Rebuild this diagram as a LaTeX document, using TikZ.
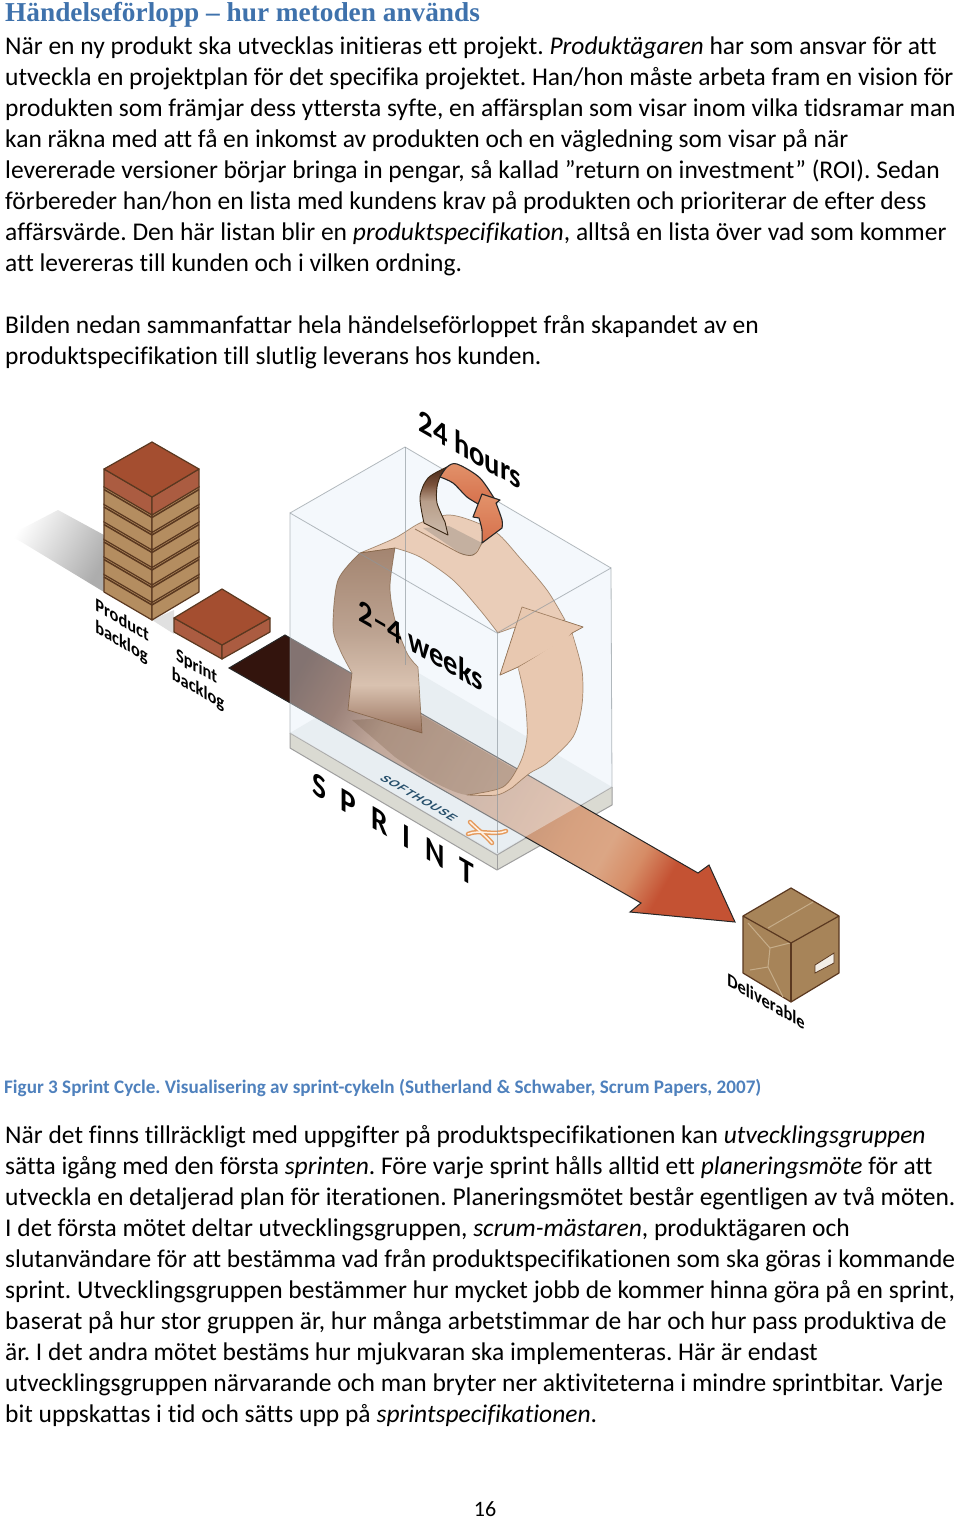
\documentclass[tikz,border=0pt]{standalone}
\usepackage{fontspec}
\setmainfont[Ligatures={NoCommon,TeX}]{Carlito}
\newfontfamily\headfont{Liberation Serif}
\newfontfamily\logofont{Liberation Sans}
\usepackage{tikz}
\frenchspacing
\definecolor{headblue}{HTML}{3F72AC}
\definecolor{capblue}{HTML}{4F81BD}
\definecolor{slabred}{HTML}{A44E30}
\definecolor{slabside}{HTML}{B48D60}
\definecolor{slabline}{HTML}{5A3820}
\definecolor{boxtan}{HTML}{A78459}
\definecolor{boxtape}{HTML}{C6AD8A}
\definecolor{glassedge}{HTML}{8D969C}
\definecolor{glassfill}{HTML}{F4F8FC}
\definecolor{platetop}{HTML}{E1E7EB}
\definecolor{plateside}{HTML}{DADAD2}
\definecolor{logoblue}{HTML}{264F6B}
\definecolor{logoorange}{HTML}{E59A5C}
\definecolor{peachlow}{RGB}{232,200,176}
\definecolor{peachtop}{RGB}{234,205,184}
\definecolor{tailgrey}{RGB}{196,176,160}
\definecolor{ringhigh}{RGB}{226,146,106}
\definecolor{ringlow}{RGB}{214,112,76}
\pgfdeclarehorizontalshading{bandshade}{100bp}{rgb(0bp)=(.20,.08,.05); rgb(25bp)=(.20,.08,.05); rgb(31bp)=(.36,.18,.11); rgb(37bp)=(.62,.44,.34); rgb(50bp)=(.72,.55,.45); rgb(62bp)=(.84,.63,.50); rgb(67bp)=(.86,.65,.52); rgb(71bp)=(.84,.55,.40); rgb(75bp)=(.77,.32,.20); rgb(100bp)=(.77,.32,.20)}
\pgfdeclareverticalshading{leftloop}{100bp}{rgb(0bp)=(.60,.45,.37); rgb(25bp)=(.60,.45,.37); rgb(38bp)=(.85,.76,.69); rgb(52bp)=(.74,.64,.57); rgb(75bp)=(.64,.52,.44); rgb(100bp)=(.64,.52,.44)}
\pgfdeclareverticalshading{smallring}{100bp}{rgb(0bp)=(.80,.73,.67); rgb(25bp)=(.80,.73,.67); rgb(50bp)=(.72,.62,.54); rgb(62bp)=(.48,.32,.23); rgb(75bp)=(.28,.16,.10); rgb(100bp)=(.28,.16,.10)}
\tikzset{
	bodytext/.style={inner sep=0pt,anchor=north west,align=left,font=\fontsize{25.5}{31}\selectfont},
	isolabel/.style={inner sep=0pt,align=left,transform shape,cm={.866,-.5,0,1,(0,0)},font=\bfseries\fontsize{#1}{#1}\selectfont},
	slab/.style={draw=slabline,line width=1.2pt,line join=round},
	glass/.style={draw=glassedge,draw opacity=.65,line width=.8pt},
	ribbon/.style={draw=black!45!brown,draw opacity=.55,line width=.7pt,line join=round},
}
\begin{document}
\begin{tikzpicture}[x=1pt,y=-1pt]
	\useasboundingbox (0,0) rectangle (960,1521);
	\fill[white] (0,0) rectangle (960,1521);
	\node[inner sep=0pt,anchor=base west,text=headblue,font=\headfont\bfseries\fontsize{27.3}{31}\selectfont] (headline) at (5,21) {Händelseförlopp – hur metoden används};
	\node[bodytext] (introtext) at (5,37) {När en ny produkt ska utvecklas initieras ett projekt. \textit{Produktägaren} har som ansvar för att\\
	utveckla en projektplan för det specifika projektet. Han/hon måste arbeta fram en vision för\\
	produkten som främjar dess yttersta syfte, en affärsplan som visar inom vilka tidsramar man\\
	kan räkna med att få en inkomst av produkten och en vägledning som visar på när\\
	levererade versioner börjar bringa in pengar, så kallad ”return on investment” (ROI). Sedan\\
	förbereder han/hon en lista med kundens krav på produkten och prioriterar de efter dess\\
	affärsvärde. Den här listan blir en \textit{produktspecifikation}, alltså en lista över vad som kommer\\
	att levereras till kunden och i vilken ordning.};
	\node[bodytext] (summarytext) at (5,315) {Bilden nedan sammanfattar hela händelseförloppet från skapandet av en\\
	produktspecifikation till slutlig leverans hos kunden.};

	\shade[left color=white,right color=black!32,shading angle=60] (10,535) -- (58,510) -- (104,535) -- (104,592) -- cycle;
	\fill[black!12] (152,620) -- (174,610) -- (174,634) -- cycle;

	\foreach \y in {105,87.5,70,52.5,35,17.5} {
		\filldraw[slab,fill=slabside] (104,469+\y) -- (152,497+\y) -- (152,515+\y) -- (104,487+\y) -- cycle;
		\filldraw[slab,fill=slabside] (199,469+\y) -- (152,497+\y) -- (152,515+\y) -- (199,487+\y) -- cycle;
		\draw[slabline,line width=1.5pt] (104,472+\y) -- (152,500+\y) -- (199,472+\y);
	}
	\filldraw[slab,fill=slabred!92!white] (104,469) -- (152,497) -- (152,515) -- (104,487) -- cycle;
	\filldraw[slab,fill=slabred!92!white] (199,469) -- (152,497) -- (152,515) -- (199,487) -- cycle;
	\filldraw[slab,fill=slabred] (152,442) -- (199,469) -- (152,497) -- (104,469) -- cycle;

	\filldraw[slab,fill=slabred!92!white] (174,618) -- (222,645) -- (222,659) -- (174,632) -- cycle;
	\filldraw[slab,fill=slabred!92!white] (270,618) -- (222,645) -- (222,659) -- (270,632) -- cycle;
	\filldraw[slab,fill=slabred] (222,589) -- (270,618) -- (222,645) -- (174,618) -- cycle;

	\node[isolabel=19] (productlabel) at (122,632) {Product\\[3pt]backlog};
	\node[isolabel=19] (sprintlabel) at (198,679) {\hspace*{5pt}Sprint\\[3pt]backlog};

	\fill[glassfill] (405,447) -- (611,568) -- (612,787) -- (497,853) -- (290,733) -- (290,513) -- cycle;
	\fill[plateside] (290,748) -- (497,870) -- (612,805) -- (612,787) -- (497,853) -- (290,733) -- cycle;
	\draw[gray!75,line width=1pt,line join=round] (290,733) -- (290,748) -- (497,870) -- (612,805) -- (612,787);
	\draw[gray!75,line width=1pt] (497,855) -- (497,870);
	\fill[platetop] (405,665) -- (612,787) -- (497,855) -- (290,733) -- cycle;
	\draw[gray!70,line width=1pt] (290,733) -- (497,855) -- (612,787);

	\shade[shading=bandshade,shading angle=-30,draw=black!85,line width=1pt,line join=miter] (229,668) -- (285,635) -- (698,873) -- (709,865) -- (735,922) -- (630,912) -- (641,903) -- cycle;

	\fill[glassfill,opacity=.42] (290,513) -- (497,633) -- (611,568) -- (612,787) -- (497,853) -- (290,733) -- cycle;

	\fill[black!55!brown,opacity=.2] (423,716) -- (520,772) -- (505,787) -- plot[smooth] coordinates {(505,787) (467,795) (430,780) (395,757)} -- (352,720) -- cycle;
	\node[inner sep=0pt,transform shape,cm={.866,-.5,.866,.5,(0,0)},text=logoblue,font=\logofont\bfseries\fontsize{12}{12}\selectfont] (softhouselabel) at (419,798) {\addfontfeature{LetterSpace=10}SOFTHOUSE};
	\draw[logoorange,line width=4.5pt,line cap=round] (470,822) .. controls (478,830) and (485,835) .. (492,843);
	\draw[logoorange,line width=4.5pt,line cap=round] (468,834) .. controls (480,829) and (494,836) .. (506,831);
	\draw[orange!10!white,line width=1.5pt,line cap=round] (470,822) .. controls (478,830) and (485,835) .. (492,843);
	\draw[orange!10!white,line width=1.5pt,line cap=round] (468,834) .. controls (480,829) and (494,836) .. (506,831);

	\filldraw[ribbon,fill=peachlow] (522,607) -- (583,627) -- (572,633) -- plot[smooth] coordinates {(572,633) (582,670) (582,705) (573,737) (547,763) (530,773) (513,787)} -- plot[smooth] coordinates {(513,787) (497,795) (467,795)} -- plot[smooth] coordinates {(467,795) (503,787) (520,763) (527,737) (525,700) (518,667)} -- (500,675) -- cycle;
	\filldraw[ribbon,fill=peachtop] plot[smooth] coordinates {(565,620) (547,590) (520,558) (497,533) (470,520) (447,515) (420,523) (395,538) (360,553)} -- (395,548) -- plot[smooth] coordinates {(395,548) (420,557) (453,580) (480,610) (498,633)} -- (512,628) -- cycle;
	\shade[ribbon,shading=leftloop] plot[smooth] coordinates {(360,553) (338,580) (333,627) (340,650) (352,673)} -- (348,710) -- (422,733) -- (418,667) -- plot[smooth] coordinates {(418,667) (407,653) (395,620) (390,587) (395,548)} -- cycle;
	\filldraw[ribbon,fill=peachlow] (522,607) -- (583,627) -- (572,633) -- (566,640) -- (518,667) -- (500,675) -- cycle;
	\fill[peachlow] (572,634) -- (518,668) -- (530,690) -- (580,665) -- cycle;

	\draw[glass] (290,513) -- (405,447) -- (611,568);
	\draw[glass] (405,447) -- (405,665);
	\draw[glass] (290,733) -- (290,513) -- (497,633) -- (611,568) -- (612,787);
	\draw[glass] (497,633) -- (497,853);

	\fill[tailgrey] (423,528) -- (463,555) -- (473,556) -- (482,543) -- (449,526) -- cycle;
	\draw[black!50!brown,opacity=.6,line width=.8pt,rounded corners=6pt] (415,529) -- (463,555) -- (475,556) -- (482,543);
	\shade[shading=smallring,draw=black!70!brown,line width=.9pt,line join=round] plot[smooth] coordinates {(447,467) (428,478) (420,497) (424,523)} -- (448,535) -- (445,522) -- plot[smooth] coordinates {(445,522) (437,503) (437,487) (440,477)} -- cycle;
	\shade[top color=ringhigh,bottom color=ringlow,draw=black!85,line width=1.1pt,line join=round] plot[smooth] coordinates {(440,477) (447,467) (457,464) (480,478) (497,503)} -- (480,505) -- plot[smooth] coordinates {(480,505) (467,497) (453,483) (440,477)} -- cycle;
	\shade[top color=ringhigh,bottom color=ringlow,draw=black!85,line width=1.1pt,line join=round] (482,494) -- (500,500) -- (496,503) -- plot[smooth] coordinates {(496,503) (502,520) (502,528)} -- (482,543) -- plot[smooth] coordinates {(482,543) (482,530) (479,518)} -- (473,517) -- cycle;

	\node[isolabel=33] (hourslabel) at (470,449) {24 hours};
	\node[isolabel=33] (weekslabel) at (421,645) {2–4 weeks};
	\node[isolabel=34] (sprintword) at (393,829) {\addfontfeature{LetterSpace=50}SPRINT};

	\filldraw[draw=slabline,line width=1.2pt,line join=round,fill=boxtan] (791,888) -- (839,916) -- (839,973) -- (791,1002) -- (743,973) -- (743,916) -- cycle;
	\draw[boxtape,line width=1pt] (768,928) -- (813,902);
	\draw[boxtape,line width=1pt] (748,923) -- (770,948) -- (790,943);
	\draw[boxtape,line width=1pt] (770,948) -- (768,967) -- (750,970);
	\draw[boxtape,line width=1pt] (768,967) -- (783,997);
	\draw[slabline,line width=1.2pt,line join=round] (743,916) -- (791,943) -- (839,916);
	\draw[slabline,line width=1.2pt] (791,943) -- (791,1002);
	\filldraw[fill=white!85!boxtan,draw=slabline,line width=.8pt] (815,965) -- (834,953) -- (834,963) -- (815,973) -- cycle;
	\node[isolabel=19] (deliverlabel) at (766,1001) {Deliverable};

	\node[inner sep=0pt,anchor=base west,text=capblue,font=\bfseries\fontsize{19.15}{22}\selectfont] (figcaption) at (4,1093) {Figur 3 Sprint Cycle. Visualisering av sprint-cykeln (Sutherland \& Schwaber, Scrum Papers, 2007)};
	\node[bodytext] (planningtext) at (5,1125) {När det finns tillräckligt med uppgifter på produktspecifikationen kan \textit{utvecklingsgruppen}\\
	sätta igång med den första \textit{sprinten}. Före varje sprint hålls alltid ett \textit{planeringsmöte} för att\\
	utveckla en detaljerad plan för iterationen. Planeringsmötet består egentligen av två möten.\\
	I det första mötet deltar utvecklingsgruppen, \textit{scrum-mästaren}, produktägaren och\\
	slutanvändare för att bestämma vad från produktspecifikationen som ska göras i kommande\\
	sprint. Utvecklingsgruppen bestämmer hur mycket jobb de kommer hinna göra på en sprint,\\
	baserat på hur stor gruppen är, hur många arbetstimmar de har och hur pass produktiva de\\
	är. I det andra mötet bestäms hur mjukvaran ska implementeras. Här är endast\\
	utvecklingsgruppen närvarande och man bryter ner aktiviteterna i mindre sprintbitar. Varje\\
	bit uppskattas i tid och sätts upp på \textit{sprintspecifikationen}.};
	\node[inner sep=0pt,font=\fontsize{22}{26}\selectfont] (pagenumber) at (485,1509) {16};
\end{tikzpicture}
\end{document}
